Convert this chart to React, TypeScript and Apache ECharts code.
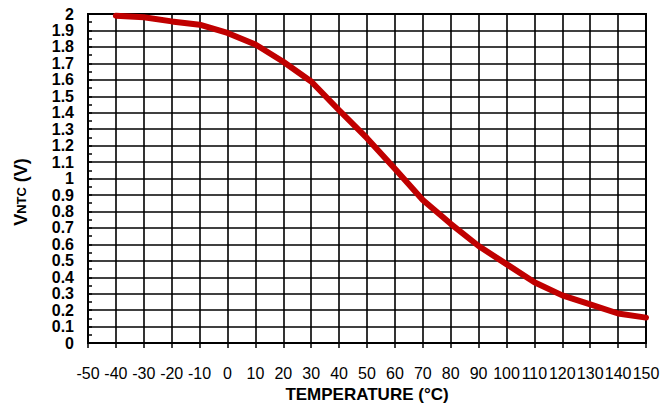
import React, { useEffect, useRef } from "react";
import * as echarts from "echarts";

const temperatures = [-40, -30, -20, -10, 0, 10, 20, 30, 40, 50, 60, 70, 80, 90, 100, 110, 120, 130, 140, 150];
const vntc = [1.99, 1.98, 1.955, 1.935, 1.885, 1.815, 1.71, 1.59, 1.415, 1.245, 1.06, 0.87, 0.725, 0.59, 0.48, 0.37, 0.29, 0.235, 0.18, 0.155];

const xMin = -50;
const xMax = 150;
const xStep = 10;
const yMin = 0;
const yMax = 2;
const yStep = 0.1;

const xTitle = "TEMPERATURE (°C)";

export default function App() {
  const ref = useRef<HTMLDivElement>(null);
  useEffect(() => {
    if (!ref.current) return;
    const chart = echarts.init(ref.current, null, { renderer: "svg" });
    const font = "'Liberation Sans', Arial, Helvetica, sans-serif";
    chart.setOption({
      animation: false,
      backgroundColor: "#ffffff",
      grid: {
        left: 88,
        right: 26,
        top: 14,
        bottom: 56,
        show: true,
        borderColor: "#000",
        borderWidth: 2,
        backgroundColor: "transparent",
      },
      xAxis: {
        type: "value",
        min: xMin,
        max: xMax,
        interval: xStep,
        name: xTitle,
        nameLocation: "middle",
        nameGap: 42,
        nameTextStyle: { fontFamily: font, fontWeight: "bold", fontSize: 17, color: "#000" },
        axisLine: { show: true, onZero: false, lineStyle: { color: "#000", width: 2 } },
        axisTick: { show: true, length: 5, lineStyle: { color: "#000", width: 1.5 } },
        axisLabel: {
          fontFamily: "'Liberation Sans Narrow', 'Liberation Sans', Arial, sans-serif",
          fontSize: 16,
          color: "#000",
          margin: 22,
          showMinLabel: true,
          showMaxLabel: true,
        },
        splitLine: { show: true, lineStyle: { color: "#000", width: 1.6 } },
      },
      yAxis: {
        type: "value",
        min: yMin,
        max: yMax,
        interval: yStep,
        axisLine: { show: true, onZero: false, lineStyle: { color: "#000", width: 2 } },
        axisTick: { show: true, inside: true, length: 4, lineStyle: { color: "#000", width: 1.5 } },
        minorTick: { show: true, splitNumber: 2, length: 4, lineStyle: { color: "#000", width: 1.5 } },
        axisLabel: {
          fontFamily: font,
          fontWeight: "bold",
          fontSize: 16,
          lineHeight: 16,
          color: "#000",
          margin: 14,
          showMinLabel: true,
          showMaxLabel: true,
          formatter: (v: number) => String(+v.toFixed(1)),
        },
        splitLine: { show: true, lineStyle: { color: "#000", width: 1.6 } },
      },
      graphic: [
        {
          type: "text",
          x: 21,
          y: 192,
          rotation: Math.PI / 2,
          style: {
            text: "{v|V}{s|NTC}{v| (V)}",
            align: "center",
            verticalAlign: "middle",
            fill: "#000",
            rich: {
              v: { fontFamily: font, fontWeight: "bold", fontSize: 18, fill: "#000", lineHeight: 22, verticalAlign: "middle" },
              s: { fontFamily: font, fontWeight: "bold", fontSize: 13, fill: "#000", lineHeight: 22, verticalAlign: "middle" },
            },
          },
        },
      ],
      series: [
        {
          type: "line",
          data: temperatures.map((t, i) => [t, vntc[i]]),
          showSymbol: false,
          symbol: "none",
          lineStyle: { color: "#c00000", width: 6, cap: "round", join: "round" },
          z: 5,
        },
      ],
    });
    return () => chart.dispose();
  }, []);
  return <div ref={ref} style={{ width: 672, height: 408, position: "absolute", left: 0, top: 0 }} />;
}
